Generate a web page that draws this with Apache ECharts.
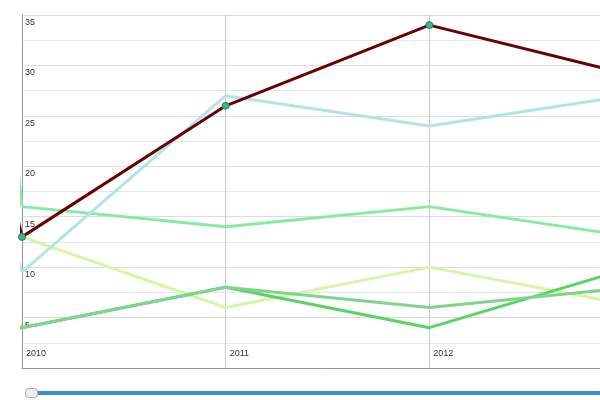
<!DOCTYPE html>
<html>
<head>
<meta charset="UTF-8">
<script src="https://cdn.jsdelivr.net/npm/echarts@6/dist/echarts.min.js"></script>
</head>
<body style="margin:0;overflow:hidden;width:600px;height:400px">
<div id="main" style="width:660px;height:400px"></div>
<script>
var years = [2010, 2011, 2012, 2013];
var labelX = 2009.93;
var names = ['o', 'o', 'ri', 'o', 'a', 'li'];
var labelVals = [29.5, 24.4, 3.8, 9, 14, 19];
var values = [
    [16, 14, 16, 13],
    [13, 6, 10, 6.2],
    [4, 8, 4, 10],
    [4, 8, 6, 8],
    [9.5, 27, 24, 27.1],
    [13, 26, 34, 29]
];
var colors = ['#86eba0', '#d2f7a6', '#5ad365', '#7fd48e', '#b2e4e4', '#6a0000'];
var leadWidths = [3, 1, 3, 1, 3, 3];

var chart = echarts.init(document.getElementById('main'));
var series = [];
names.forEach(function (n, i) {
    // short lead-in segment from the label to the 2010 point
    series.push({
        type: 'line', clip: false, silent: true, symbol: 'none', z: 3,
        lineStyle: { color: colors[i], width: leadWidths[i] },
        label: { show: false },
        data: [
            { value: [labelX, labelVals[i]], symbol: 'none',
              label: { show: true, position: 'left', distance: 1, formatter: n, color: '#1f2a44', fontWeight: 'bold', fontSize: 11 } },
            [years[0], values[i][0]]
        ]
    });
    var isMain = i === 5;
    series.push({
        type: 'line', clip: false, z: isMain ? 5 : 3,
        symbol: isMain ? 'circle' : 'none', symbolSize: 7,
        itemStyle: { color: '#3bb58b', borderColor: '#2a7f63', borderWidth: 1 },
        lineStyle: { color: colors[i], width: 3 },
        data: years.map(function (y, k) { return [y, values[i][k]]; })
    });
});

chart.setOption({
    backgroundColor: '#fff',
    animation: false,
    grid: { left: 22, right: 27, top: 15, bottom: 32 },
    xAxis: {
        type: 'value', min: 2010, max: 2013, interval: 1,
        axisLine: { show: true, lineStyle: { color: '#999' } },
        axisTick: { show: false },
        splitLine: { show: true, lineStyle: { color: '#ccc' } },
        axisLabel: { inside: true, align: 'left', margin: 10, padding: [0, 0, 0, 4], fontSize: 9, color: '#333',
            formatter: function (v) { return String(v); } }
    },
    yAxis: {
        type: 'value', min: 0, max: 35, interval: 5,
        axisLine: { show: true, lineStyle: { color: '#999' } },
        axisTick: { show: false },
        minorTick: { show: false, splitNumber: 2 },
        minorSplitLine: { show: true, lineStyle: { color: '#e6e6e6' } },
        splitLine: { show: true, lineStyle: { color: '#ddd' } },
        axisLabel: { inside: true, verticalAlign: 'top', align: 'left', margin: 3, padding: [3, 0, 0, 0], fontSize: 9, color: '#333',
            formatter: function (v) { return v === 0 ? '' : v; } }
    },
    graphic: [
        { type: 'rect', left: 28, top: 391, shape: { width: 640, height: 4, r: 2 }, style: { fill: '#3a8fd0' } },
        { type: 'rect', left: 25, top: 388, shape: { width: 12, height: 9, r: 3 }, style: { fill: '#eee', stroke: '#aaa' } }
    ],
    series: series
});
</script>
</body>
</html>
